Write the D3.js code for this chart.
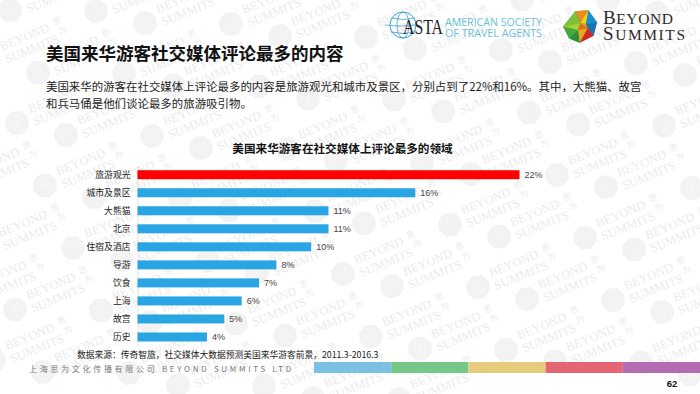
<!DOCTYPE html>
<html><head><meta charset="utf-8">
<script src="https://cdn.jsdelivr.net/npm/d3@7/dist/d3.min.js"></script>
<style>html,body{margin:0;padding:0;background:#fff}svg{display:block}
text{font-family:"Noto Sans CJK SC","Noto Sans",sans-serif}</style></head>
<body><svg id="c" width="700" height="394"></svg>
<script>
const categories=["旅游观光","城市及景区","大熊猫","北京","住宿及酒店","导游","饮食","上海","故宫","历史"];
const values=[22,16,11,11,10,8,7,6,5,4];
const valueSuffix="%";
const highlightCategory="旅游观光";
const pageTitle="美国来华游客社交媒体评论最多的内容";
const bodyLines=["美国来华的游客在社交媒体上评论最多的内容是旅游观光和城市及景区，分别占到了22%和16%。其中，大熊猫、故宫","和兵马俑是他们谈论最多的旅游吸引物。"];
const chartTitle="美国来华游客在社交媒体上评论最多的领域";
const sourceNote="数据来源：传奇智旅，社交媒体大数据预测美国来华游客前景，2011.3-2016.3";
const footerText="上海思为文化传播有限公司 BEYOND SUMMITS LTD";
const footerColors=["#7bc1e4","#75c887","#e5cc7d","#e36672","#b36bb2"];
const pageNumber="62";

const svg=d3.select("#c");
// watermark
const wm=svg.append("g").attr("id","wm");
const hex=d3.range(8).map(i=>{const a=i/8*2*Math.PI+0.3;return [12.5*Math.cos(a),12.5*Math.sin(a)];});
function motif(g){
  g.append("polygon").attr("points",hex.map(p=>p.join(",")).join(" ")).attr("fill","#f2f2f2");
  hex.forEach(p=>g.append("line").attr("x1",0).attr("y1",0).attr("x2",p[0]).attr("y2",p[1]).attr("stroke","#f8f8f8").attr("stroke-width",.6));
  const t=g.append("g").attr("transform","translate(13,-10) rotate(-22)");
  const st="font-family:'Liberation Serif';font-size:12.5px;fill:#ebebeb";
  t.append("text").attr("x",0).attr("y",0).text("BEYOND").attr("style",st);
  t.append("text").attr("x",0).attr("y",14).text("SUMMITS").attr("style",st);
  g.append("text").attr("transform","translate(65,-35) rotate(-22)").text("思").attr("style","font-size:8.5px;fill:#ebebeb");
  g.append("text").attr("transform","translate(71,-26) rotate(-22)").text("为").attr("style","font-size:8.5px;fill:#ebebeb");
}
const u=[135,13],v=[28,62.5],c0=[49,12],base=[557,175];
d3.range(-5,7).forEach(i=>d3.range(-7,8).forEach(j=>{
  [[0,0],c0].forEach(o=>{
    const x=base[0]+i*u[0]+j*v[0]+o[0],y=base[1]+i*u[1]+j*v[1]+o[1];
    if(x>-60&&x<700&&y>-10&&y<410) motif(wm.append("g").attr("transform",`translate(${x},${y})`));
  });
}));

// ASTA logo
const asta=svg.append("g");
asta.append("circle").attr("cx",403).attr("cy",25).attr("r",13).attr("fill","none").attr("stroke","#3f9fd6").attr("stroke-width",1);
asta.append("ellipse").attr("cx",403).attr("cy",25).attr("rx",6).attr("ry",13).attr("fill","none").attr("stroke","#3f9fd6").attr("stroke-width",.8);
[-7,0,7].forEach(d=>asta.append("path").attr("d",`M${391-(d===0?6:0)} ${25+d}Q403 ${25+d+(d===0?2:3)} ${415} ${25+d}`).attr("fill","none").attr("stroke","#3f9fd6").attr("stroke-width",.8));
asta.append("text").attr("x",403).attr("y",34).text("ASTA").attr("textLength",40).attr("lengthAdjust","spacingAndGlyphs").attr("style","font-family:'Liberation Serif';font-size:20px;fill:#222");
asta.append("text").attr("x",445).attr("y",26).text("AMERICAN SOCIETY").attr("textLength",97).attr("lengthAdjust","spacingAndGlyphs").attr("style","font-family:'Open Sans';font-size:11.5px;fill:#6cc0dc");
asta.append("text").attr("x",445).attr("y",36.5).text("OF TRAVEL AGENTS").attr("textLength",97).attr("lengthAdjust","spacingAndGlyphs").attr("style","font-family:'Open Sans';font-size:11.5px;fill:#6cc0dc");

// Beyond Summits logo
const bs=svg.append("g").attr("transform","translate(580.5,26.5) scale(.87,.85)");
bs.append("polygon").attr("points","-6,-18 9,-19 19,-5 15,11 -1,19 -13,14 -20,0").attr("fill","#46a83b");
const tris=[[[-6,-18],[9,-19],[0,-4],"#ee8a1d"],[[9,-19],[19,-5],[6,-3],"#1b8fd6"],[[9,-19],[6,-3],[0,-4],"#f4d315"],[[19,-5],[15,11],[6,-3],"#1a72b8"],[[15,11],[-1,19],[8,2],"#d22630"],[[6,-3],[15,11],[8,2],"#c62a2f"],[[-1,19],[8,2],[-3,4],"#e8a81f"],[[-1,19],[-13,14],[-3,4],"#2d8f3a"],[[-13,14],[-20,0],[-3,4],"#46a83b"],[[-20,0],[-6,-18],[0,-4],"#7fbf3a"],[[-20,0],[0,-4],[-3,4],"#a6cf38"],[[0,-4],[8,2],[-3,4],"#ea6a1c"],[[0,-4],[6,-3],[8,2],"#f09a1c"]];
tris.forEach(t=>bs.append("polygon").attr("points",t.slice(0,3).map(p=>p.join(",")).join(" ")).attr("fill",t[3]));
[["B","EYOND",603,24,70],["S","UMMITS",603,40,82]].forEach(r=>{
  const t=svg.append("text").attr("x",r[2]).attr("y",r[3]).attr("textLength",r[4]).attr("lengthAdjust","spacing").attr("style","font-family:'Liberation Serif';fill:#2a2a2a");
  t.append("tspan").attr("style","font-size:19px").text(r[0]);
  t.append("tspan").attr("style","font-size:15.5px").text(r[1]);
});

// headings
svg.append("text").attr("x",46).attr("y",60).text(pageTitle).attr("style","font-size:17.5px;font-weight:700;fill:#111");
bodyLines.forEach((l,i)=>svg.append("text").attr("x",46).attr("y",90.5+i*17).text(l).attr("style","font-size:11.44px;fill:#222"));
svg.append("text").attr("x",342.5).attr("y",153).attr("text-anchor","middle").text(chartTitle).attr("style","font-size:11.6px;font-weight:700;fill:#111");

// chart
const y=d3.scaleBand().domain(categories).range([165.7,346]).paddingInner(.5).paddingOuter(.25);
const x=d3.scaleLinear().domain([0,22]).range([137.5,519.5]);
const ax=svg.append("g").attr("transform","translate(137.5,0)").call(d3.axisLeft(y).tickSize(0).tickPadding(7));
ax.select(".domain").attr("stroke","#d9d9d9").attr("stroke-width",.8);
ax.selectAll("text").attr("style","font-size:8.8px;fill:#222;font-family:'Noto Sans CJK SC'");
svg.selectAll("rect.bar").data(categories).join("rect").attr("class","bar")
 .attr("x",x(0)).attr("y",d=>y(d)).attr("height",y.bandwidth())
 .attr("width",(d,i)=>x(values[i])-x(0)).attr("fill",d=>d===highlightCategory?"#ff0000":"#29a5e3");
svg.selectAll("text.val").data(categories).join("text").attr("class","val")
 .attr("x",(d,i)=>x(values[i])+5).attr("y",d=>y(d)+y.bandwidth()/2+3.2)
 .text((d,i)=>values[i]+valueSuffix).attr("style","font-family:'Liberation Sans';font-size:9px;fill:#444");

// footer
svg.append("text").attr("x",77).attr("y",358).text(sourceNote).attr("style","font-size:8.75px;fill:#222");
svg.append("text").attr("x",29).attr("y",371.5).text(footerText).attr("style","font-size:8px;letter-spacing:2.7px;fill:#7a7a7a");
const fx=d3.scaleBand().domain(d3.range(footerColors.length)).range([314,700]);
svg.selectAll("rect.fb").data(footerColors).join("rect").attr("class","fb").attr("x",(d,i)=>fx(i)).attr("y",362).attr("width",fx.bandwidth()).attr("height",11).attr("fill",d=>d);
svg.append("text").attr("x",672).attr("y",387).attr("text-anchor","middle").text(pageNumber).attr("style","font-family:'Liberation Sans';font-size:9.5px;font-weight:700;fill:#111");
</script></body></html>
